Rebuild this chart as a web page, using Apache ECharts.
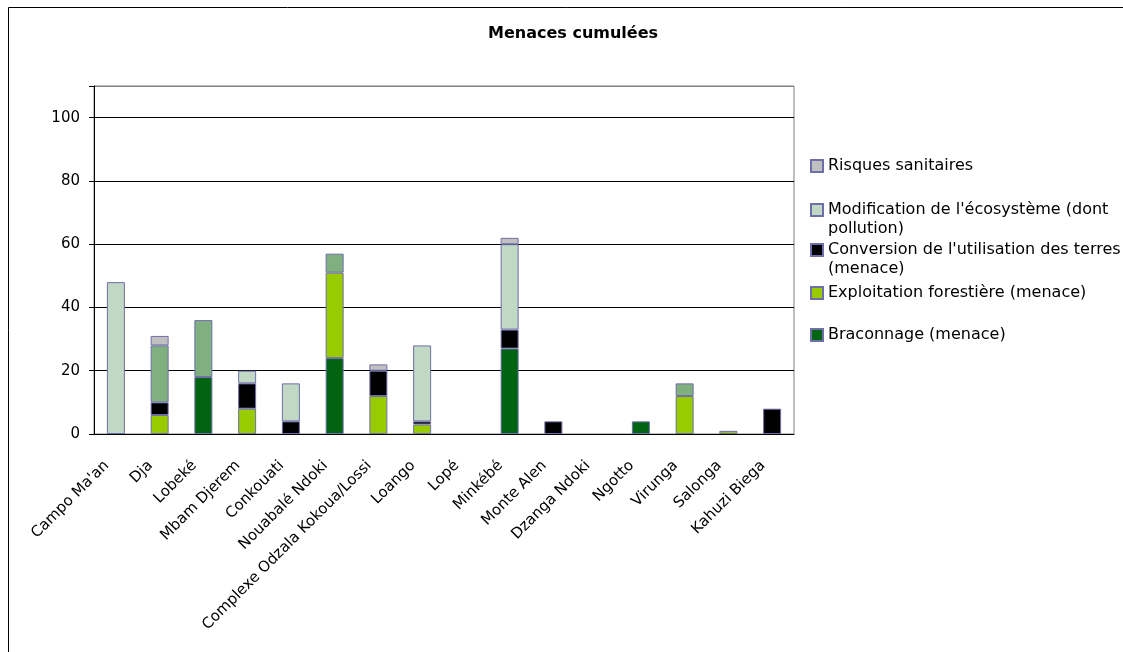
<!DOCTYPE html>
<html>
<head>
<meta charset="utf-8">
<script src="https://cdn.jsdelivr.net/npm/echarts@6/dist/echarts.min.js"></script>
<style>
  html, body { margin: 0; padding: 0; background: #fff; }
  #main { width: 1123px; height: 652px; }
</style>
</head>
<body>
<div id="main"></div>
<script>
// echarts init
var myChart = echarts.init(document.getElementById('main'));

var sites = ['Campo Ma\'an', 'Dja', 'Lobeké', 'Mbam Djerem', 'Conkouati', 'Nouabalé Ndoki',
    'Complexe Odzala Kokoua/Lossi', 'Loango', 'Lopé', 'Minkébé', 'Monte Alen', 'Dzanga Ndoki',
    'Ngotto', 'Virunga', 'Salonga', 'Kahuzi Biega'];

// values (0 = no segment)
var braconnage   = [0, 0, 18, 0, 0, 24, 0, 0, 0, 27, 0, 0, 4, 0, 0, 0];
var exploitation = [0, 6, 0, 8, 0, 27, 12, 3, 0, 0, 0, 0, 0, 12, 1, 0];
var conversion   = [0, 4, 0, 8, 4, 0, 8, 1, 0, 6, 4, 0, 0, 0, 0, 8];
var autre        = [0, 18, 18, 0, 0, 6, 0, 0, 0, 0, 0, 0, 0, 4, 0, 0];
var modification = [48, 0, 0, 4, 12, 0, 0, 24, 0, 27, 0, 0, 0, 0, 0, 0];
var risques      = [0, 3, 0, 0, 0, 0, 2, 0, 0, 2, 0, 0, 0, 0, 0, 0];

var yTicks = [0, 20, 40, 60, 80, 100];

var font = 'DejaVu Sans, Verdana, sans-serif';

var stackDefs = [
    ['Braconnage (menace)', braconnage, '#006411'],
    ['Exploitation forestière (menace)', exploitation, '#99CC00'],
    ['Conversion de l\'utilisation des terres (menace)', conversion, '#000000'],
    ['Autres', autre, '#80B080'],
    ['Modification de l\'écosystème (dont pollution)', modification, '#C0D8C4'],
    ['Risques sanitaires', risques, '#C0C0C0']
];

var series = stackDefs.map(function (s) {
    return {
        name: s[0],
        type: 'bar',
        stack: 'menaces',
        barWidth: 18,
        itemStyle: { color: s[2], borderColor: '#6E6EA8', borderWidth: 1 },
        data: s[1].map(function (v) { return v === 0 ? '-' : v; })
    };
});

// legend entries: [series name, displayed text, centre of first line]
var legendDefs = [
    ['Risques sanitaires', 'Risques sanitaires', 166],
    ['Modification de l\'écosystème (dont pollution)', 'Modification de l\'écosystème (dont\npollution)', 210],
    ['Conversion de l\'utilisation des terres (menace)', 'Conversion de l\'utilisation des terres\n(menace)', 250],
    ['Exploitation forestière (menace)', 'Exploitation forestière (menace)', 293],
    ['Braconnage (menace)', 'Braconnage (menace)', 335]
];
var lh = 19;
var legends = legendDefs.map(function (l) {
    var twoLines = l[1].indexOf('\n') >= 0;
    return {
        left: 810,
        top: twoLines ? l[2] - 1.5 * lh : l[2] - lh / 2,
        orient: 'vertical',
        icon: 'rect',
        itemWidth: 12,
        itemHeight: 12,
        selectedMode: false,
        padding: 0,
        // blank first line keeps the icon level with the first text line
        formatter: function () { return twoLines ? ' \n' + l[1] : l[1]; },
        textStyle: { fontFamily: font, fontSize: 16, color: '#000', lineHeight: lh },
        data: [l[0]]
    };
});

option = {
    backgroundColor: '#fff',
    animation: false,
    title: {
        text: 'Menaces cumulées',
        left: 483,
        top: 21,
        textStyle: { fontFamily: font, fontSize: 16, fontWeight: 'bold', color: '#000' }
    },
    legend: legends,
    grid: {
        left: 94, right: 329, top: 86, bottom: 218,
        show: true, borderColor: '#808080', borderWidth: 1
    },
    xAxis: {
        type: 'category',
        data: sites,
        axisLine: { lineStyle: { color: '#000' } },
        axisTick: { length: 5, lineStyle: { color: '#000' } },
        axisLabel: {
            rotate: 45, interval: 0, margin: 20, padding: [0, 13, 0, 0],
            fontFamily: font, fontSize: 15, color: '#000'
        }
    },
    yAxis: {
        type: 'value',
        min: 0, max: 110, interval: 20,
        axisLine: { show: true, lineStyle: { color: '#000' } },
        axisTick: { show: true, length: 5, lineStyle: { color: '#000' } },
        axisLabel: {
            margin: 14, fontFamily: font, fontSize: 15, color: '#000',
            formatter: function (v) { return yTicks.indexOf(v) >= 0 ? String(v) : ''; }
        },
        splitLine: { lineStyle: { color: ['#000', '#000', '#000', '#000', '#000', '#000', '#808080'] } }
    },
    graphic: [{
        type: 'rect',
        shape: { x: 8.5, y: 7.5, width: 1200, height: 700 },
        style: { fill: null, stroke: '#000', lineWidth: 1 },
        silent: true
    }],
    series: series
};

myChart.setOption(option);
</script>
</body>
</html>
